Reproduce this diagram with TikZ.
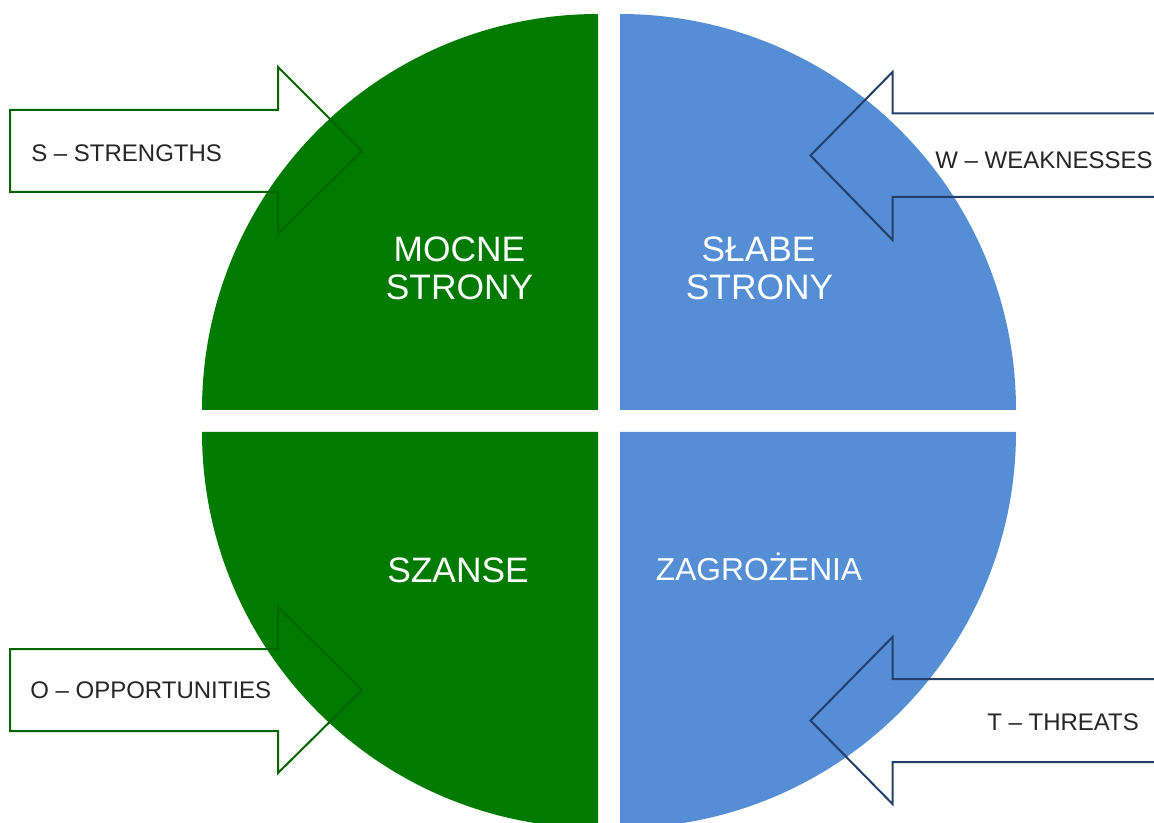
\documentclass[tikz,border=0pt]{standalone}
\usepackage{fontspec}
\setmainfont{Liberation Sans}
\definecolor{swotgreen}{RGB}{0,123,0}
\definecolor{swotblue}{RGB}{85,142,213}
\definecolor{arrowgreen}{RGB}{0,100,0}
\definecolor{arrowblue}{RGB}{36,64,106}
\begin{document}
\begin{tikzpicture}[x=0.75pt, y=-0.75pt,
    greenarrow/.style={draw=arrowgreen, line width=1.5pt, line join=miter},
    bluearrow/.style={draw=arrowblue, line width=1.5pt, line join=miter},
    bigtext/.style={text=white, inner sep=0pt, anchor=base, font=\fontsize{26.5}{30}\selectfont},
    midtext/.style={text=white, inner sep=0pt, anchor=base, font=\fontsize{23.8}{28}\selectfont},
    smalltext/.style={text=black!85, inner sep=0pt, anchor=base west, font=\fontsize{18}{22}\selectfont}]
    \clip (0, 0) rectangle (1154, 823);
    \fill[white] (0, 0) rectangle (1154, 823);

    %%quarters
    \fill[swotgreen] (598, 410) -- (202, 410) arc[start angle=180, end angle=90, radius=297pt] -- cycle;
    \fill[swotblue] (620, 410) -- (620, 14) arc[start angle=90, end angle=0, radius=297pt] -- cycle;
    \fill[swotgreen] (598, 432) -- (202, 432) arc[start angle=180, end angle=270, radius=297pt] -- cycle;
    \fill[swotblue] (620, 432) -- (1016, 432) arc[start angle=0, end angle=-90, radius=297pt] -- cycle;

    %%labels
    \node[bigtext] (mocne) at (459.5, 261.7) {MOCNE};
        \node[bigtext] (mocnestrony) at (459.5, 300) {STRONY};
    \node[bigtext] (slabe) at (758.5, 261.7) {SŁABE};
        \node[bigtext] (slabestrony) at (759.5, 300) {STRONY};
    \node[bigtext] (szanse) at (458, 582.7) {SZANSE};
    \node[midtext] (zagrozenia) at (759, 580.7) {ZAGROŻENIA};

    %%arrows
    \draw[greenarrow] (10, 110) -- (278, 110) -- (278, 67) -- (362, 151) -- (278, 234) -- (278, 192) -- (10, 192) -- cycle;
        \node[smalltext] (s) at (31, 161.7) {S – STRENGTHS};
    \draw[bluearrow] (1160, 113.5) -- (892.5, 113.5) -- (892.5, 72) -- (810.5, 155.5) -- (892.5, 240) -- (892.5, 197) -- (1160, 197);
        \node[smalltext] (w) at (935, 168.3) {W – WEAKNESSES};
    \draw[greenarrow] (10, 649) -- (278, 649) -- (278, 607) -- (362, 690) -- (278, 773) -- (278, 731) -- (10, 731) -- cycle;
        \node[smalltext] (o) at (30, 698) {O – OPPORTUNITIES};
    \draw[bluearrow] (1160, 679) -- (892.5, 679) -- (892.5, 637) -- (810.5, 720.5) -- (892.5, 804) -- (892.5, 762) -- (1160, 762);
        \node[smalltext] (t) at (987, 730) {T – THREATS};
\end{tikzpicture}
\end{document}
